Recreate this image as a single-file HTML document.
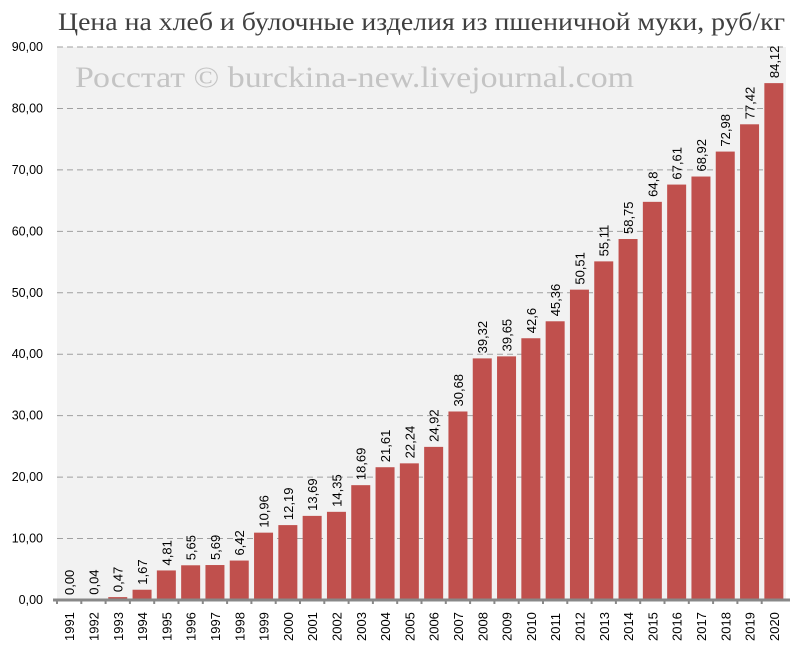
<!DOCTYPE html>
<html><head><meta charset="utf-8"><style>
body{margin:0;background:#fff;width:800px;height:646px;overflow:hidden}
svg text{font-family:"Liberation Sans",sans-serif}
</style></head><body>
<svg id="c" width="800" height="646">
<text x="58" y="30" font-size="25" textLength="727" lengthAdjust="spacingAndGlyphs" fill="#404040" style="font-family:'Liberation Serif','DejaVu Serif',serif">Цена на хлеб и булочные изделия из пшеничной муки, руб/кг</text>
<rect x="57" y="47" width="729" height="553" fill="#f2f2f2"/>
<g id="grid"></g>
<text x="75" y="87" font-size="30" textLength="559" lengthAdjust="spacingAndGlyphs" fill="#c4c4c4" style="font-family:'Liberation Serif','DejaVu Serif',serif">Росстат © burckina-new.livejournal.com</text>
<g id="bars"></g>
</svg>
<script>
const years=["1991","1992","1993","1994","1995","1996","1997","1998","1999","2000","2001","2002","2003","2004","2005","2006","2007","2008","2009","2010","2011","2012","2013","2014","2015","2016","2017","2018","2019","2020"];
const values=[0,0.04,0.47,1.67,4.81,5.65,5.69,6.42,10.96,12.19,13.69,14.35,18.69,21.61,22.24,24.92,30.68,39.32,39.65,42.6,45.36,50.51,55.11,58.75,64.8,67.61,68.92,72.98,77.42,84.12];
const valueLabels=["0,00","0,04","0,47","1,67","4,81","5,65","5,69","6,42","10,96","12,19","13,69","14,35","18,69","21,61","22,24","24,92","30,68","39,32","39,65","42,6","45,36","50,51","55,11","58,75","64,8","67,61","68,92","72,98","77,42","84,12"];
const yTicks=[0,10,20,30,40,50,60,70,80,90];
const yTickLabels=["0,00","10,00","20,00","30,00","40,00","50,00","60,00","70,00","80,00","90,00"];
const NS="http://www.w3.org/2000/svg";
const X0=57,X1=786,Y0=600,Y90=47;
const y=v=>Y0-(Y0-Y90)*v/90;
const step=(X1-X0)/years.length;
const x=i=>X0+i*step;
const grid=document.getElementById('grid'),bars=document.getElementById('bars');
function mk(tag,attrs,parent){const e=document.createElementNS(NS,tag);for(const k in attrs)e.setAttribute(k,attrs[k]);parent.appendChild(e);return e;}
yTicks.forEach((t,i)=>{
 if(t>0){const l=mk('line',{x1:X0,x2:X1,y1:y(t),y2:y(t),stroke:'#a0a0a0','stroke-dasharray':'6,4'},grid);
 
 }
 const tx=mk('text',{x:43,y:y(t)+4,'text-anchor':'end','font-size':12.5,fill:'#000'},grid);
 tx.textContent=yTickLabels[i];
 
 
});
values.forEach((v,i)=>{
 const bw=19,bx=x(i)+(step-bw)/2;
 const r=mk('rect',{x:bx,y:y(v),width:bw,height:Y0-y(v),fill:'#c0504d'},bars);
 
 
 const cx=x(i)+step/2+5,ly=y(v)-5;
 const t=mk('text',{x:cx,y:ly,'font-size':13,fill:'#000',transform:`rotate(-90 ${cx} ${ly})`},bars);
 t.textContent=valueLabels[i];
 
 
 const yx=x(i)+step/2+5,yy=641;
 const yl=mk('text',{x:yx,y:yy,'font-size':13,fill:'#000',transform:`rotate(-90 ${yx} ${yy})`},bars);
 yl.textContent=years[i];
 
 
 const tk=mk('line',{x1:x(i),x2:x(i),y1:Y0,y2:Y0+4,stroke:'#888','stroke-width':2},bars);
 
 
});
const ax=mk('line',{x1:X0-4,x2:X1+4,y1:Y0,y2:Y0,stroke:'#888','stroke-width':3},bars);


</script>
</body></html>
